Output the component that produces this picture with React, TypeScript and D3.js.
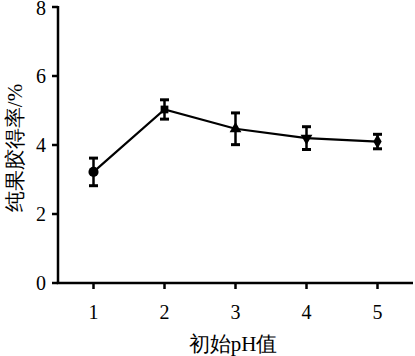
import React from "react";
import * as d3 from "d3";

const phValues = [1, 2, 3, 4, 5];
const yieldValues = [3.22, 5.03, 4.47, 4.2, 4.1];
const errValues = [0.4, 0.28, 0.46, 0.33, 0.21];
const yTicks = [0, 2, 4, 6, 8];
const markerTypes = [d3.symbolCircle, d3.symbolSquare, d3.symbolTriangle, d3.symbolTriangle, d3.symbolDiamond];
const markerRot = [0, 0, 0, 180, 0];

export default function App() {
  const W = 415, H = 356;
  const x = d3.scaleLinear().domain([1, 5]).range([93.5, 377.5]);
  const y = d3.scaleLinear().domain([0, 8]).range([283, 7]);
  const x0 = 58;
  const line = d3.line<number>().x((_, i) => x(phValues[i])).y((d) => y(d));
  const font = "'Liberation Serif', 'Times New Roman', serif";
  return (
    <svg width={W} height={H} style={{ position: "absolute", left: 0, top: 0, background: "#fff" }}>
      <g fontFamily={font} fill="#000">
        {/* y axis */}
        <line x1={x0} x2={x0} y1={y(8) - 1} y2={y(0)} stroke="#000" strokeWidth={2.5} />
        {yTicks.map((t) => (
          <g key={t}>
            <line x1={x0 - 6} x2={x0} y1={y(t)} y2={y(t)} stroke="#000" strokeWidth={2.5} />
            <text x={x0 - 12} y={y(t) + (t === 8 ? 1 : 0)} dy="0.35em" textAnchor="end" fontSize={20}>{t}</text>
          </g>
        ))}
        {/* x axis */}
        <line x1={x0 - 1.25} x2={413} y1={y(0)} y2={y(0)} stroke="#000" strokeWidth={2.5} />
        {phValues.map((v) => (
          <g key={v}>
            <line x1={x(v)} x2={x(v)} y1={y(0)} y2={y(0) + 6} stroke="#000" strokeWidth={2.5} />
            <text x={x(v)} y={312} dy="0.35em" textAnchor="middle" fontSize={20}>{v}</text>
          </g>
        ))}
        <text x={233} y={344} dy="0.35em" textAnchor="middle" fontSize={21}>初始pH值</text>
        <text transform={`translate(15,148) rotate(-90)`} dy="0.35em" textAnchor="middle" fontSize={21}>纯果胶得率/%</text>
        {/* line */}
        <path d={line(yieldValues) || ""} fill="none" stroke="#000" strokeWidth={2.2} />
        {/* error bars */}
        {yieldValues.map((v, i) => {
          const cx = x(phValues[i]);
          const top = y(v + errValues[i]);
          const bot = y(v - errValues[i]);
          return (
            <g key={i} stroke="#000">
              <line x1={cx} x2={cx} y1={top} y2={bot} strokeWidth={2.5} />
              <line x1={cx - 4.5} x2={cx + 4.5} y1={top} y2={top} strokeWidth={3} />
              <line x1={cx - 4.5} x2={cx + 4.5} y1={bot} y2={bot} strokeWidth={3} />
            </g>
          );
        })}
        {/* markers */}
        {yieldValues.map((v, i) => (
          <path
            key={i}
            d={d3.symbol().type(markerTypes[i]).size(i === 0 ? 80 : 60)() || ""}
            transform={`translate(${x(phValues[i])},${y(v)}) rotate(${markerRot[i]})`}
            fill="#000"
          />
        ))}
      </g>
    </svg>
  );
}
